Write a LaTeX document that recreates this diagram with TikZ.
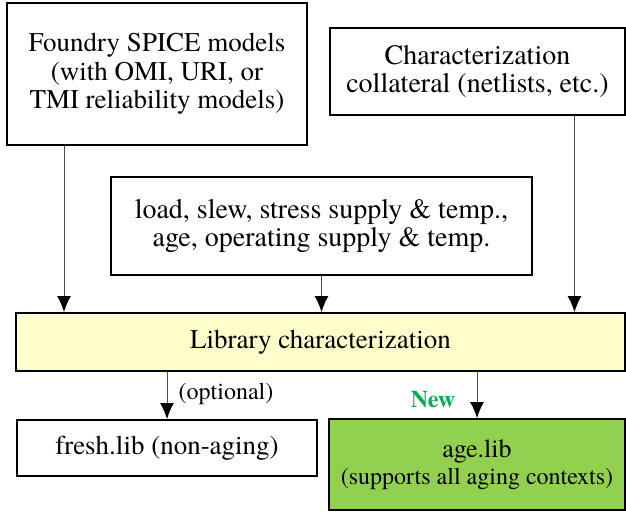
\documentclass[tikz,border=0pt]{standalone}
\usepackage{fontspec}
\setmainfont{texgyretermes}[Extension=.otf,UprightFont=*-regular,BoldFont=*-bold,ItalicFont=*-italic,BoldItalicFont=*-bolditalic]
\usepackage{xcolor}
\usetikzlibrary{arrows.meta}
\usetikzlibrary{positioning}

\definecolor{libyellow}{HTML}{FFFFCC}
\definecolor{agegreen}{HTML}{92D050}
\definecolor{newgreen}{HTML}{00B050}

\begin{document}
\begin{tikzpicture}[x=1pt,y=-1pt]
	%\draw[help lines] (0,0) grid (626,513);
	\useasboundingbox (0,0) rectangle (626,513);
	
	\tikzstyle{vbox} = [rectangle,draw,line width=2pt,fill=white,inner sep=0pt,align=center,font=\fontsize{27}{28.5}\selectfont]
	\tikzstyle{vedge} = [-{Latex[length=16pt,width=14pt,color=black]},line width=1pt,draw=black!70]
	\tikzstyle{vlabel} = [inner sep=0pt,font=\fontsize{24}{27}\selectfont]
	
	\node[vbox,minimum width=300pt,minimum height=142pt] (spice) at (157,74) {Foundry SPICE models\\(with OMI, URI, or\\TMI reliability models)};
	\node[vbox,minimum width=295pt,minimum height=87pt,font=\fontsize{28}{28}\selectfont] (coll) at (477.5,71.5) {Characterization\\collateral (netlists, etc.)};
	\node[vbox,minimum width=421pt,minimum height=98pt,font=\fontsize{28}{28}\selectfont] (cond) at (321.5,226) {load, slew, stress supply \& temp.,\\age, operating supply \& temp.};
	\node[vbox,minimum width=609pt,minimum height=58pt,fill=libyellow] (libchar) at (320.5,342) {Library characterization};
	\node[vbox,minimum width=300pt,minimum height=56pt] (fresh) at (167,448) {fresh.lib (non-aging)};
	\node[vbox,minimum width=296pt,minimum height=91pt,fill=agegreen,font=\fontsize{26}{27}\selectfont] (agelib) at (477,464.5) {age.lib\\{\fontsize{24}{27}\selectfont(supports all aging contexts)}};
	
	\draw ([xshift=-93pt]spice.south) edge [vedge] ([xshift=-93pt]spice.south |- libchar.north);
	\draw (cond) edge [vedge] (cond |- libchar.north);
	\draw ([xshift=97pt]coll.south) edge [vedge] ([xshift=97pt]coll.south |- libchar.north);
	\draw (fresh |- libchar.south) edge [vedge] (fresh);
	\draw (agelib |- libchar.south) edge [vedge] (agelib);
	
	\node[vlabel] (opt) at (226,394) {(optional)};
	\node[vlabel,text=newgreen,font=\fontsize{24}{27}\selectfont\bfseries] (new) at (433,400) {New};

\end{tikzpicture}
\end{document}
